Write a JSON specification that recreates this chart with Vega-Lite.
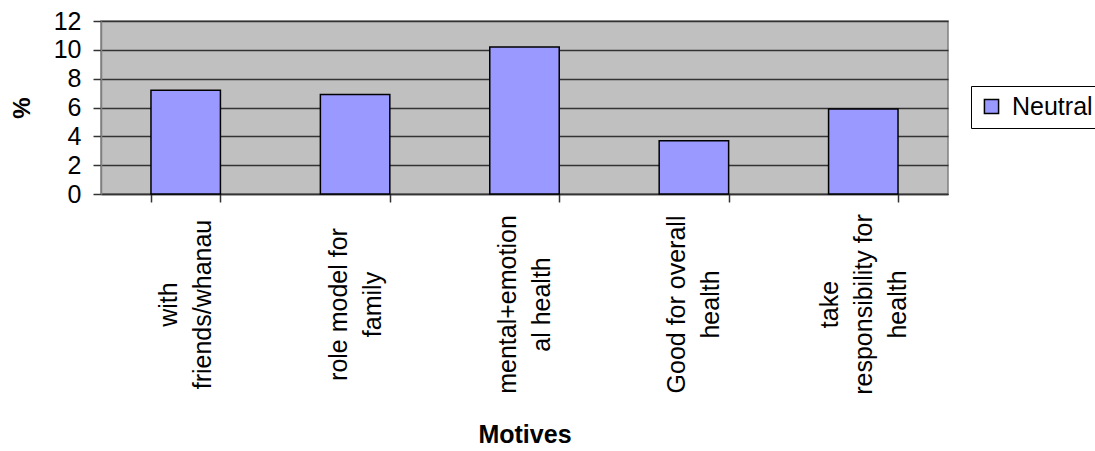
{
  "$schema": "https://vega.github.io/schema/vega-lite/v6.json",
  "autosize": {"type": "none"},
  "padding": {"left": 101, "top": 21, "right": 147, "bottom": 257},
  "width": 847,
  "height": 173,
  "background": "white",
  "config": {
    "font": "Liberation Sans",
    "view": {"fill": "#C0C0C0", "stroke": "#808080", "strokeWidth": 1.5}
  },
  "data": {
    "values": [
      {"motive": "with|friends/whanau", "order": 1, "series": "Neutral", "value": 7.2},
      {"motive": "role model for|family", "order": 2, "series": "Neutral", "value": 6.9},
      {"motive": "mental+emotion|al health", "order": 3, "series": "Neutral", "value": 10.2},
      {"motive": "Good for overall|health", "order": 4, "series": "Neutral", "value": 3.7},
      {"motive": "take|responsibility for|health", "order": 5, "series": "Neutral", "value": 5.9}
    ]
  },
  "mark": {"type": "bar", "stroke": "black", "strokeWidth": 1.5},
  "encoding": {
    "x": {
      "field": "motive",
      "type": "nominal",
      "sort": {"field": "order"},
      "scale": {"paddingInner": 0.59, "paddingOuter": 0.295},
      "axis": {
        "title": "Motives",
        "titleFont": "Liberation Sans",
        "titleFontSize": 25,
        "titleFontWeight": "bold",
        "titleColor": "black",
        "titlePadding": 28,
        "labelExpr": "split(datum.label, '|')",
        "labelAngle": -90,
        "labelAlign": "center",
        "labelBaseline": "middle",
        "labelFontSize": 25,
        "labelLineHeight": 34,
        "labelColor": "black",
        "labelPadding": 102,
        "labelLimit": 0,
        "labelOffset": {"condition": {"test": "length(split(datum.value, '|')) === 3", "value": -34}, "value": -17},
        "tickBand": "extent",
        "tickSize": 8,
        "tickColor": "#333333",
        "tickWidth": 1.5,
        "domainColor": "#333333",
        "domainWidth": 1.5,
        "grid": false
      }
    },
    "y": {
      "field": "value",
      "type": "quantitative",
      "scale": {"domain": [0, 12], "nice": false},
      "axis": {
        "title": "%",
        "titleFont": "Liberation Sans",
        "titleFontSize": 24,
        "titleFontWeight": "bold",
        "titleColor": "black",
        "titlePadding": 19,
        "values": [0, 2, 4, 6, 8, 10, 12],
        "labelFontSize": 25,
        "labelColor": "black",
        "labelPadding": 12,
        "tickSize": 8,
        "tickColor": "#333333",
        "tickWidth": 1.5,
        "domainColor": "#808080",
        "domainWidth": 1.5,
        "grid": true,
        "gridColor": "#333333",
        "gridWidth": 1.5
      }
    },
    "color": {
      "field": "series",
      "type": "nominal",
      "scale": {"range": ["#9999FF"]},
      "legend": {
        "title": null,
        "orient": "none",
        "legendX": 870,
        "legendY": 65,
        "padding": 8,
        "strokeColor": "black",
        "fillColor": "white",
        "symbolType": "square",
        "symbolSize": 200,
        "symbolStrokeColor": "black",
        "symbolStrokeWidth": 1.5,
        "labelFontSize": 25,
        "labelColor": "black",
        "labelOffset": 8
      }
    }
  }
}
